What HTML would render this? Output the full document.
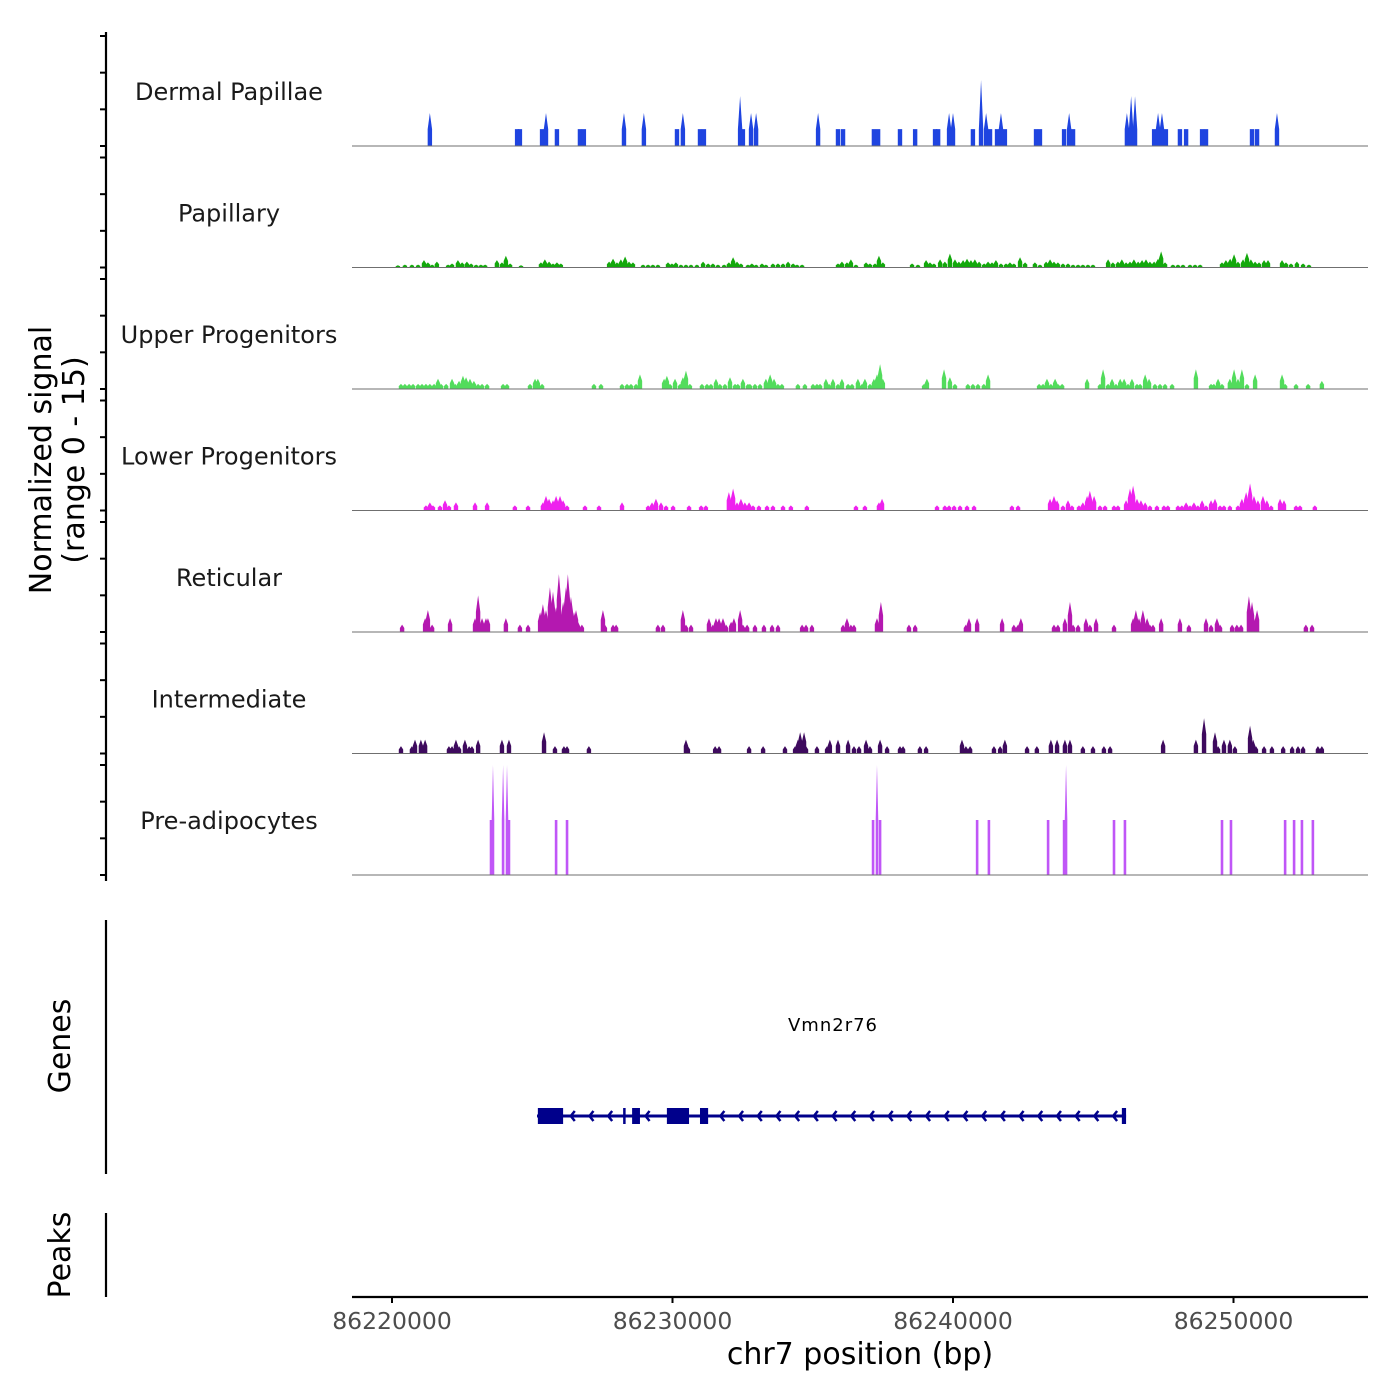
<!DOCTYPE html>
<html><head><meta charset="utf-8"><style>
html,body{margin:0;padding:0;background:#fff;width:1400px;height:1400px;overflow:hidden}
svg{display:block;font-family:"DejaVu Sans","Liberation Sans",sans-serif}
</style></head><body>
<svg id="chart" width="1400" height="1400" viewBox="0 0 1400 1400" xmlns="http://www.w3.org/2000/svg">
<g id="tracks"></g>
<g id="axes"></g>
<g id="genes"></g>
</svg>
<script>
// region anchor (kb); positions below are kb offsets from this anchor
const regionStartKb = 86220;
const trackNames = ["Dermal Papillae","Papillary","Upper Progenitors","Lower Progenitors","Reticular","Intermediate","Pre-adipocytes"];
const xTickValues = [86220000,86230000,86240000,86250000];
const xTickLabels = ["86220000","86230000","86240000","86250000"];
const yTickValues = [0,5,10,15];

const dpPos = [1.35,4.46,4.56,5.35,5.49,5.88,6.70,6.84,8.27,8.98,10.16,10.37,10.98,11.12,12.41,12.51,12.80,12.98,15.19,15.90,16.08,17.18,17.33,18.11,18.65,19.36,19.47,19.86,20.00,20.71,21.00,21.18,21.32,21.57,21.71,21.85,22.96,23.10,23.96,24.14,24.28,26.20,26.35,26.49,27.17,27.31,27.45,27.59,28.09,28.31,28.88,29.02,30.66,30.84,31.55];
const dpVal = [4.5,2.3,2.3,2.3,4.5,2.3,2.3,2.3,4.5,4.5,2.3,4.5,2.3,2.3,6.8,2.3,4.5,4.5,4.5,2.3,2.3,2.3,2.3,2.3,2.3,2.3,2.3,4.5,4.5,2.3,9,4.5,2.3,2.3,4.5,2.3,2.3,2.3,2.3,4.5,2.3,4.5,6.8,6.8,2.3,4.5,4.5,2.3,2.3,2.3,2.3,2.3,2.3,2.3,4.5];

const papPos = [0.21,0.46,0.71,0.93,1.14,1.28,1.43,1.6,2.0,2.14,2.35,2.5,2.67,2.82,3.0,3.17,3.32,3.74,3.92,4.06,4.21,4.6,5.31,5.45,5.6,5.74,5.88,6.02,7.74,7.88,8.02,8.16,8.31,8.45,8.59,8.95,9.13,9.3,9.48,9.84,9.98,10.12,10.3,10.48,10.66,10.87,11.09,11.27,11.44,11.62,11.84,12.01,12.16,12.3,12.44,12.69,12.83,12.98,13.19,13.33,13.58,13.76,13.94,14.12,14.3,14.44,14.62,15.9,16.04,16.22,16.36,16.54,16.9,17.04,17.22,17.36,17.5,18.54,18.75,19.04,19.18,19.32,19.54,19.71,19.89,20.07,20.21,20.36,20.5,20.64,20.78,20.93,21.11,21.25,21.39,21.53,21.71,21.89,22.03,22.17,22.39,22.57,22.92,23.1,23.32,23.46,23.6,23.74,23.92,24.1,24.28,24.46,24.63,24.81,24.99,25.53,25.7,25.88,26.02,26.17,26.31,26.45,26.6,26.74,26.88,27.02,27.17,27.31,27.42,27.56,27.84,28.02,28.2,28.45,28.63,28.81,29.59,29.73,29.88,30.02,30.16,30.34,30.48,30.62,30.77,30.91,31.09,31.23,31.73,31.87,32.05,32.26,32.48,32.69];
const papVal = [0.3,0.4,0.4,0.4,1,0.7,0.4,0.8,0.4,0.55,1,0.7,0.8,0.55,0.4,0.4,0.4,1,0.7,1.6,0.55,0.3,0.7,1.1,0.8,0.55,0.7,0.55,0.8,1.2,0.7,1.1,1.5,0.8,0.7,0.4,0.4,0.4,0.4,0.7,0.55,0.7,0.4,0.4,0.4,0.4,0.8,0.55,0.55,0.4,0.4,0.7,1.4,0.8,0.55,0.4,0.55,0.4,0.55,0.4,0.55,0.55,0.55,0.8,0.55,0.4,0.4,0.55,0.8,0.7,1.1,0.4,0.7,0.55,0.55,1.6,0.7,0.55,0.4,1,0.7,0.55,1.1,0.8,1.9,1.1,0.8,1,1.2,1,1.1,0.8,0.55,0.8,0.7,1,0.55,0.55,0.7,0.55,1.4,0.7,0.7,0.4,0.8,1.1,0.8,0.7,0.55,0.55,0.4,0.4,0.4,0.4,0.4,1.1,0.7,0.8,1.1,0.7,0.8,1.1,0.8,1,1.1,0.8,0.8,1.2,2.2,0.7,0.4,0.4,0.4,0.4,0.4,0.4,0.7,1,1.2,1.8,0.8,1.1,2,1.1,0.8,0.7,1,1,1,0.7,0.55,0.8,0.55,0.4];

const upPos = [0.32,0.46,0.61,0.75,0.93,1.07,1.21,1.35,1.5,1.64,1.75,1.93,2.14,2.25,2.39,2.53,2.64,2.78,2.92,3.07,3.21,3.39,3.96,4.1,4.92,5.1,5.2,5.35,7.2,7.45,8.2,8.38,8.52,8.7,8.84,9.7,9.8,9.91,10.09,10.27,10.37,10.48,10.62,11.05,11.23,11.37,11.55,11.69,11.87,12.05,12.23,12.33,12.51,12.69,12.76,12.94,13.12,13.33,13.48,13.62,13.76,13.9,14.47,14.72,15.01,15.15,15.26,15.47,15.58,15.72,15.9,16.04,16.26,16.4,16.61,16.76,16.86,17.04,17.18,17.29,17.4,17.5,18.97,19.07,19.68,19.89,20.07,20.53,20.71,20.89,21.1,21.25,23.07,23.21,23.35,23.49,23.64,23.74,23.89,24.78,25.24,25.35,25.53,25.67,25.81,25.96,26.1,26.24,26.38,26.56,26.67,26.85,26.99,27.2,27.38,27.56,27.81,28.66,29.2,29.3,29.45,29.59,29.87,30.02,30.16,30.3,30.48,30.77,31.73,31.84,32.23,32.66,33.15];
const upVal = [0.7,0.7,0.7,0.7,0.7,0.7,0.7,0.7,0.7,1.4,0.7,0.7,1.4,0.7,1.1,1.8,1.6,1.4,1.1,0.7,0.7,0.7,0.7,0.7,0.7,1.4,1.4,0.7,0.7,0.7,0.7,0.7,0.7,0.7,2,1.4,1.8,0.7,1.4,0.7,1.6,2.5,0.7,0.7,0.7,0.7,1.4,0.7,0.7,1.6,0.7,0.7,1.4,0.7,0.7,0.7,0.7,1.4,2,1.4,0.7,0.7,0.7,0.7,0.7,0.7,0.7,1.4,0.7,1.4,0.7,1.4,0.7,0.7,1.4,0.7,1.4,0.7,1.4,2,3.4,1.4,0.7,1.4,2.7,1.6,0.7,0.7,0.7,0.7,0.7,2,0.7,0.7,1.4,0.7,1.4,0.7,0.7,1.4,0.7,2.7,0.7,1.4,0.7,1.4,1.4,0.7,1.4,0.7,0.7,2,1.4,0.7,0.7,0.7,0.7,2.7,0.7,0.7,1.4,0.7,1.4,2.7,1.4,2.7,0.7,2,2,0.7,0.7,0.7,1.1];

const loPos = [1.21,1.35,1.46,1.71,1.89,2.03,2.28,2.96,3.39,4.38,4.85,5.38,5.49,5.6,5.74,5.85,5.99,6.1,6.24,6.88,7.38,8.2,9.13,9.27,9.41,9.59,9.77,10.02,10.59,11.02,11.19,12.01,12.16,12.3,12.44,12.58,12.73,12.87,13.08,13.37,13.58,13.94,14.22,14.79,16.54,16.86,17.36,17.47,19.43,19.71,19.86,20.04,20.25,20.5,20.75,22.1,22.32,23.46,23.6,23.71,23.92,24.1,24.24,24.49,24.63,24.78,24.88,25.03,25.24,25.42,25.74,25.88,26.17,26.31,26.42,26.56,26.7,26.85,27.02,27.27,27.52,27.66,28.02,28.16,28.31,28.45,28.59,28.73,28.88,29.02,29.2,29.34,29.52,29.66,29.87,30.16,30.3,30.45,30.59,30.73,30.87,31.05,31.19,31.34,31.66,31.8,32.23,32.37,32.9];
const loVal = [0.7,1.1,0.7,0.7,1.4,0.7,1.1,1.1,1.1,0.7,0.7,1.1,2,1.6,1.4,2,2,1.4,0.7,0.7,0.7,1.1,0.7,1.1,1.6,1.1,0.7,0.7,0.7,0.7,0.7,2.5,3,1.1,1.6,1.1,1.1,0.7,0.7,0.7,0.7,0.7,0.7,0.7,0.7,0.7,1.1,1.6,0.7,0.7,0.7,0.7,0.7,0.7,0.7,0.7,0.7,1.6,2,1.4,0.7,1.4,0.7,0.7,1.1,2,2.7,2,0.7,0.7,0.7,0.7,1.4,3,3.4,1.6,1.4,1.1,0.7,0.7,0.7,0.7,0.7,0.7,1.1,0.7,1.1,0.7,1.4,0.7,1.4,1.6,0.7,0.7,0.7,0.7,1.6,2.5,3.7,2,1.4,2,1.4,0.7,1.6,1.4,0.7,0.7,0.7];

const retPos = [0.36,1.18,1.28,1.43,2.07,2.96,3.07,3.21,3.35,3.42,4.06,4.56,4.85,5.28,5.38,5.49,5.63,5.74,5.85,5.95,6.1,6.2,6.27,6.38,6.49,6.56,6.63,6.77,7.52,7.59,7.88,7.99,9.48,9.66,10.37,10.48,10.66,11.3,11.44,11.55,11.66,11.8,11.91,12.09,12.19,12.41,12.51,12.66,12.94,13.26,13.55,13.76,14.62,14.76,14.97,16.08,16.22,16.36,16.47,17.29,17.43,18.43,18.65,20.46,20.57,20.86,21.75,22.17,22.32,22.42,23.6,23.74,23.99,24.17,24.28,24.46,24.74,24.88,25.1,25.74,26.42,26.52,26.63,26.77,26.92,27.02,27.13,27.42,28.09,28.41,29.02,29.2,29.41,29.52,29.95,30.12,30.27,30.55,30.66,30.73,30.84,32.58,32.8];
const retVal = [1,1.9,3,1,1.9,1.9,5,1.9,1.9,1.9,1.9,1,1,2.7,3.8,3,6.1,5.5,3.4,7.9,4.1,6.1,7.9,4.8,2.7,3,1.4,1,3,1,1,1,1,1,3,1,1,1.9,1,1.9,1.9,1.9,1,1.4,1.9,3,1,1,1,1,1,1,1,1,1,1,1.9,1,1,1.9,4.1,1,1,1,1.9,1.9,1.9,1,1,1.9,1,1,1.9,4.1,1,1,1.9,1,1.9,1,1.9,3,1.9,3,1.9,1,1,1.9,1.9,1,1.9,1,1.9,1,1,1,1,4.9,4.1,1.9,3,1,1];

const intPos = [0.32,0.71,0.82,1.03,1.18,2.03,2.14,2.28,2.39,2.6,2.75,2.85,3.07,3.92,4.17,5.42,5.81,6.13,6.24,7.02,10.48,10.55,11.52,11.66,12.73,13.23,14.01,14.37,14.47,14.55,14.69,14.76,15.15,15.51,15.61,15.9,16.26,16.47,16.65,16.9,17.04,17.4,17.65,18.11,18.22,18.82,19.04,20.32,20.46,20.61,21.46,21.68,21.85,22.64,22.99,23.49,23.71,23.99,24.17,24.63,24.99,25.38,25.6,27.49,28.66,28.95,29.34,29.45,29.66,29.87,30.05,30.59,30.7,30.8,31.09,31.37,31.77,32.09,32.3,32.48,33.01,33.15];
const intVal = [1,1,1.9,1.9,1.9,1,1,1.9,1,1.9,1,1,1.9,1.9,1.9,2.9,1,1,1,1,1.9,1,1,1,1,1,1,1,1.9,2.9,2.9,1,1,1,1.9,1.9,1.9,1,1,1.9,1,1.9,1,1,1,1,1,1.9,1,1,1,1,1.9,1,1,1.9,1.9,1.9,1.9,1,1,1,1,1.9,1.9,4.8,2.9,1,1.9,1.9,1,3.8,1.9,1,1,1,1,1,1,1,1,1];

const prePos = [3.53,3.6,3.96,4.1,4.17,5.85,6.24,17.15,17.29,17.4,20.86,21.28,23.39,23.96,24.03,25.74,26.13,29.59,29.91,31.84,32.16,32.44,32.83];
const preVal = [7.5,15,15,15,7.5,7.5,7.5,7.5,15,7.5,7.5,7.5,7.5,7.5,15,7.5,7.5,7.5,7.5,7.5,7.5,7.5,7.5];

const geneStartKb = 5.17, geneEndKb = 26.17;
const exonStarts = [5.2,8.24,8.56,9.8,10.98,26.02];
const exonEnds = [6.1,8.31,8.84,10.59,11.27,26.17];

// ---- scales ----
const PX_PER_KB = 28.05, X0 = 392, PLOT_L = 352, PLOT_R = 1368;
function xScale(kbOff){ return X0 + kbOff*PX_PER_KB; }
function xScaleBp(bp){ return xScale((bp - regionStartKb*1000)/1000); }
const TRACK_BASE0 = 146, TRACK_STEP = 121.5, UNIT_PX = 110/15;
function trackBase(i){ return TRACK_BASE0 + i*TRACK_STEP; }
function yScale(i, v){ return trackBase(i) - v*UNIT_PX; }

const NS = "http://www.w3.org/2000/svg";
function mk(tag, attrs, parent){ const e = document.createElementNS(NS, tag); for (const k in attrs) e.setAttribute(k, attrs[k]); parent.appendChild(e); return e; }

const tracksG = document.getElementById('tracks');
const axesG = document.getElementById('axes');
const genesG = document.getElementById('genes');

const tracks = [
  {pos:dpPos, val:dpVal, color:"#1f44e0", hw:2.2, shoulder:2.3},
  {pos:papPos, val:papVal, color:"#13a80c", hw:2.2, shoulder:-1},
  {pos:upPos, val:upVal, color:"#52dc5c", hw:2.2, shoulder:-1},
  {pos:loPos, val:loVal, color:"#ee22ee", hw:2.2, shoulder:-1},
  {pos:retPos, val:retVal, color:"#b418b0", hw:2.2, shoulder:-1},
  {pos:intPos, val:intVal, color:"#3e0a5e", hw:2.2, shoulder:-1},
  {pos:prePos, val:preVal, color:"#c056f7", hw:1.3, shoulder:7.5}
];

tracks.forEach((t, i) => {
  const g = mk('g', {}, tracksG);
  
  
  const lbl = mk('text', {x:229, y:trackBase(i)-46, 'text-anchor':'middle', 'font-size':'24', fill:'#1a1a1a'}, g);
  lbl.textContent = trackNames[i];
  
  
  const base = trackBase(i);
  t.pos.forEach((p, j) => {
    const cx = xScale(p), top = yScale(i, t.val[j]);
    const sv = t.shoulder > 0 ? Math.min(t.val[j], t.shoulder) : t.val[j]*0.55;
    const sh = yScale(i, sv);
    const pts = [[cx-t.hw,base],[cx-t.hw,sh],[cx,top],[cx+t.hw,sh],[cx+t.hw,base]].map(a=>a.join(',')).join(' ');
    const pk = mk('polygon', {points:pts, fill:t.color}, g);
    
    
  });
  const bl = mk('line', {x1:PLOT_L, x2:PLOT_R, y1:base, y2:base, stroke:'#6f6f6f', 'stroke-width':1}, g);
  
  
});

// y axis (signal)
const ya = mk('line', {x1:106, x2:106, y1:32, y2:881, stroke:'#000', 'stroke-width':2.2}, axesG);


for (let i=0;i<7;i++){
  yTickValues.forEach(v => {
    const y = yScale(i, v);
    const tk = mk('line', {x1:100, x2:106, y1:y, y2:y, stroke:'#000', 'stroke-width':2}, axesG);
    
    
  });
}
const yt = mk('text', {transform:'translate(54,460) rotate(-90)', 'text-anchor':'middle', 'font-size':'30', fill:'#000'}, axesG);


const t1 = mk('tspan', {x:0, dy:-3}, yt); t1.textContent = 'Normalized signal';
const t2 = mk('tspan', {x:0, dy:33}, yt); t2.textContent = '(range 0 - 15)';

// genes / peaks axis
const ga = mk('line', {x1:106, x2:106, y1:920, y2:1174, stroke:'#000', 'stroke-width':2.2}, axesG);


const gt = mk('text', {transform:'translate(70,1046) rotate(-90)', 'text-anchor':'middle', 'font-size':'30', fill:'#000'}, axesG);
gt.textContent = 'Genes';


const pa = mk('line', {x1:106, x2:106, y1:1213, y2:1297, stroke:'#000', 'stroke-width':2.2}, axesG);


const pt = mk('text', {transform:'translate(70,1255) rotate(-90)', 'text-anchor':'middle', 'font-size':'30', fill:'#000'}, axesG);
pt.textContent = 'Peaks';



// x axis
const xa = mk('line', {x1:PLOT_L, x2:PLOT_R, y1:1297, y2:1297, stroke:'#000', 'stroke-width':2.2}, axesG);


xTickValues.forEach((v, k) => {
  const x = xScaleBp(v);
  const tk = mk('line', {x1:x, x2:x, y1:1297, y2:1303, stroke:'#000', 'stroke-width':2}, axesG);
  
  
  const tl = mk('text', {x:x, y:1329, 'text-anchor':'middle', 'font-size':'23.5', fill:'#4d4d4d'}, axesG);
  tl.textContent = xTickLabels[k];
  
  
});
const xt = mk('text', {x:860, y:1364, 'text-anchor':'middle', 'font-size':'30', fill:'#000'}, axesG);
xt.textContent = 'chr7 position (bp)';



// gene model
const GY = 1116;
const gl = mk('line', {x1:xScale(geneStartKb), x2:xScale(geneEndKb), y1:GY, y2:GY, stroke:'#00008b', 'stroke-width':3}, genesG);


exonStarts.forEach((s, k) => {
  const x1 = xScale(s), x2 = xScale(exonEnds[k]);
  const ex = mk('rect', {x:x1, y:GY-8, width:Math.max(2.5, x2-x1), height:16, fill:'#00008b'}, genesG);
  
  
});
for (let xx = xScale(geneEndKb) - 13; xx > xScale(geneStartKb) + 30; xx -= 18.7) {
  const inside = exonStarts.some((s,k) => xx > xScale(s)-4 && xx < xScale(exonEnds[k])+2);
  if (inside) continue;
  const ch = mk('polyline', {points:`${xx+4},${GY-5} ${xx},${GY} ${xx+4},${GY+5}`, fill:'none', stroke:'#00008b', 'stroke-width':2.5}, genesG);
  
  
}
const gn = mk('text', {x:833, y:1031, 'text-anchor':'middle', 'font-size':'18', 'letter-spacing':'1', fill:'#000'}, genesG);
gn.textContent = 'Vmn2r76';


</script>
</body></html>
